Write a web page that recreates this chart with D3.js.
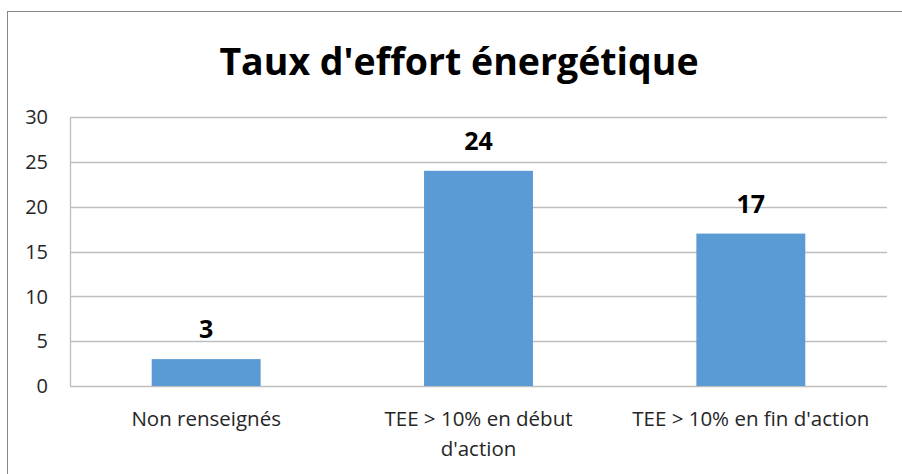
<!DOCTYPE html>
<html>
<head>
  <meta charset="UTF-8">
  <style>
    body { margin: 0; background: white; }
    text { font-family: "Open Sans", "Liberation Sans", sans-serif; }
  </style>
</head>
<body>
<div id="chart_div"></div>

<script src="https://d3js.org/d3.v7.min.js"></script>
<script>

let width = 902, height = 474;

// data
const categories = ["Non renseignés", "TEE > 10% en début d'action", "TEE > 10% en fin d'action"];
const categoryLines = [["Non renseignés"], ["TEE > 10% en début", "d'action"], ["TEE > 10% en fin d'action"]];
const values = [3, 24, 17];
const yTicks = [0, 5, 10, 15, 20, 25, 30];
const title = "Taux d'effort énergétique";

const margin = {left: 70, right: 15, top: 117, bottom: 88};

let svg = d3.select("#chart_div")
    .append("svg")
    .attr("width", width)
    .attr("height", height);

// outer border of the chart
svg.append("rect")
    .attr("x", 7.5).attr("y", 11.5)
    .attr("width", width + 10).attr("height", height)
    .attr("fill", "white")
    .attr("stroke", "#868686")
    .attr("stroke-width", 1);

let x = d3.scaleBand()
    .domain(categories)
    .range([margin.left, width - margin.right])
    .paddingInner(0.6)
    .paddingOuter(0.3);

let y = d3.scaleLinear()
    .domain([0, 30])
    .range([height - margin.bottom, margin.top]);

// gridlines
svg.append("g")
    .selectAll("line")
    .data(yTicks)
    .enter()
    .append("line")
    .attr("x1", margin.left)
    .attr("x2", width - margin.right)
    .attr("y1", d => Math.round(y(d)) + 0.5)
    .attr("y2", d => Math.round(y(d)) + 0.5)
    .attr("stroke", "#BEBEBE")
    .attr("stroke-width", 1.3);

// y axis line
svg.append("line")
    .attr("x1", margin.left + 0.5).attr("x2", margin.left + 0.5)
    .attr("y1", y(30)).attr("y2", y(0))
    .attr("stroke", "#BEBEBE")
    .attr("stroke-width", 1.3);

// y tick labels
svg.append("g")
    .selectAll("text")
    .data(yTicks)
    .enter()
    .append("text")
    .attr("x", 48)
    .attr("y", d => y(d))
    .attr("dy", "0.36em")
    .attr("text-anchor", "end")
    .attr("font-size", "20px")
    .attr("fill", "#262626")
    .text(d => d);

// bars
svg.append("g")
    .selectAll("rect")
    .data(values)
    .enter()
    .append("rect")
    .attr("x", (d, i) => x(categories[i]))
    .attr("y", d => y(d))
    .attr("width", x.bandwidth())
    .attr("height", d => y(0) - y(d))
    .attr("fill", "#5B9BD5");

// value labels
svg.append("g")
    .selectAll("text")
    .data(values)
    .enter()
    .append("text")
    .attr("x", (d, i) => x(categories[i]) + x.bandwidth() / 2)
    .attr("y", d => y(d) - 21)
    .attr("text-anchor", "middle")
    .attr("font-size", "25px")
    .attr("font-weight", "bold")
    .attr("fill", "#000")
    .text(d => d);

// category labels
let catG = svg.append("g")
    .selectAll("text")
    .data(categoryLines)
    .enter()
    .append("text")
    .attr("x", (d, i) => x(categories[i]) + x.bandwidth() / 2)
    .attr("y", 426)
    .attr("text-anchor", "middle")
    .attr("font-size", "20.5px")
    .attr("fill", "#262626");

catG.selectAll("tspan")
    .data(d => d)
    .enter()
    .append("tspan")
    .attr("x", function() { return d3.select(this.parentNode).attr("x"); })
    .attr("dy", (d, i) => i === 0 ? 0 : 30)
    .text(d => d);

// title
svg.append("text")
    .attr("x", 459)
    .attr("y", 75)
    .attr("text-anchor", "middle")
    .attr("font-size", "37.5px")
    .attr("font-weight", "bold")
    .attr("fill", "#000")
    .text(title);

</script>

</body>
</html>
